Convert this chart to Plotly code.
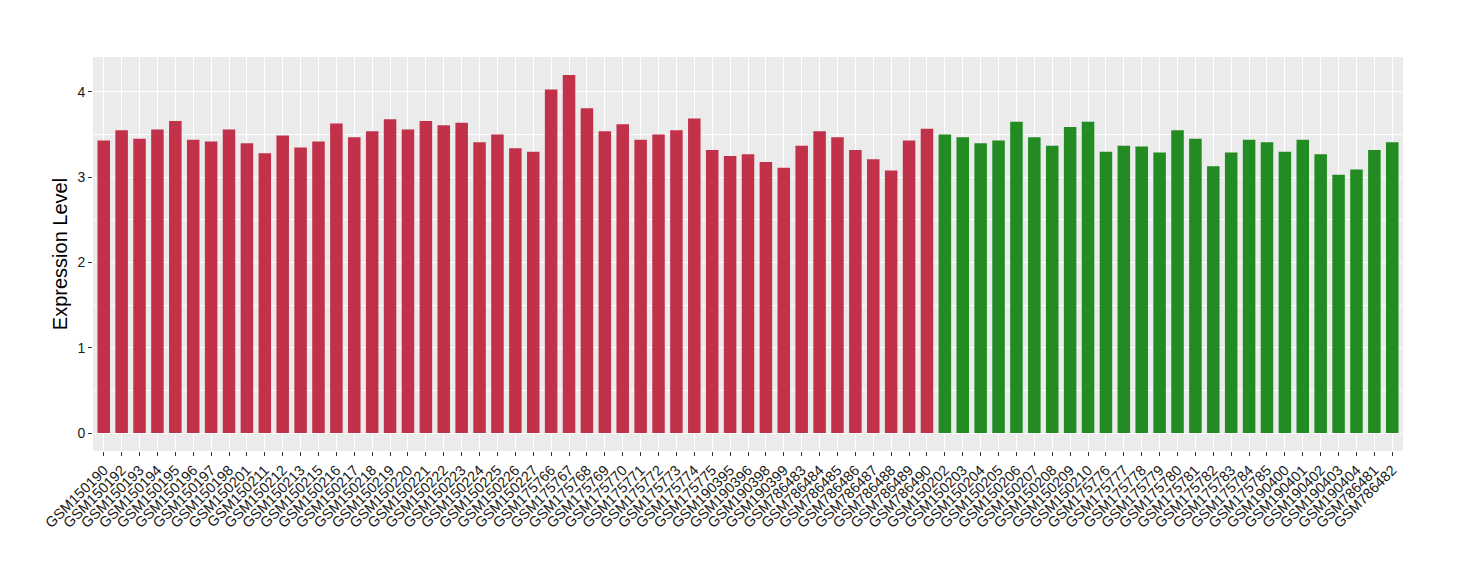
import plotly.graph_objects as go

red_samples = ["GSM150190", "GSM150192", "GSM150193", "GSM150194", "GSM150195", "GSM150196",
               "GSM150197", "GSM150198", "GSM150201", "GSM150211", "GSM150212", "GSM150213",
               "GSM150215", "GSM150216", "GSM150217", "GSM150218", "GSM150219", "GSM150220",
               "GSM150221", "GSM150222", "GSM150223", "GSM150224", "GSM150225", "GSM150226",
               "GSM150227", "GSM175766", "GSM175767", "GSM175768", "GSM175769", "GSM175770",
               "GSM175771", "GSM175772", "GSM175773", "GSM175774", "GSM175775", "GSM190395",
               "GSM190396", "GSM190398", "GSM190399", "GSM786483", "GSM786484", "GSM786485",
               "GSM786486", "GSM786487", "GSM786488", "GSM786489", "GSM786490"]
red_values = [3.43, 3.55, 3.45, 3.56, 3.66, 3.44, 3.42, 3.56, 3.40, 3.28, 3.49, 3.35,
              3.42, 3.63, 3.47, 3.54, 3.68, 3.56, 3.66, 3.61, 3.64, 3.41, 3.50, 3.34,
              3.30, 4.03, 4.20, 3.81, 3.54, 3.62, 3.44, 3.50, 3.55, 3.69, 3.32, 3.25,
              3.27, 3.18, 3.11, 3.37, 3.54, 3.47, 3.32, 3.21, 3.08, 3.43, 3.57]

green_samples = ["GSM150202", "GSM150203", "GSM150204", "GSM150205", "GSM150206", "GSM150207",
                 "GSM150208", "GSM150209", "GSM150210", "GSM175776", "GSM175777", "GSM175778",
                 "GSM175779", "GSM175780", "GSM175781", "GSM175782", "GSM175783", "GSM175784",
                 "GSM175785", "GSM190400", "GSM190401", "GSM190402", "GSM190403", "GSM190404",
                 "GSM786481", "GSM786482"]
green_values = [3.50, 3.47, 3.40, 3.43, 3.65, 3.47, 3.37, 3.59, 3.65, 3.30, 3.37, 3.36,
                3.29, 3.55, 3.45, 3.13, 3.29, 3.44, 3.41, 3.30, 3.44, 3.27, 3.03, 3.09,
                3.32, 3.41]

y_ticks = [0, 1, 2, 3, 4]

RED = "#C2314A"
GREEN = "#228B22"
FONT = "Liberation Sans, Arial, sans-serif"

all_samples = red_samples + green_samples

fig = go.Figure()
fig.add_trace(go.Bar(x=red_samples, y=red_values, marker=dict(color=RED, line=dict(width=0)),
                     showlegend=False))
fig.add_trace(go.Bar(x=green_samples, y=green_values, marker=dict(color=GREEN, line=dict(width=0)),
                     showlegend=False))

fig.update_layout(
    width=1460, height=580,
    margin=dict(l=85, r=65, t=49, b=137),
    paper_bgcolor="white",
    plot_bgcolor="#EBEBEB",
    bargap=0.3,
    font=dict(family=FONT, color="#1a1a1a"),
)
fig.update_xaxes(
    automargin=False,
    categoryorder="array", categoryarray=all_samples,
    tickmode="array", tickvals=all_samples, ticktext=all_samples,
    range=[-0.6, len(all_samples) - 0.4],
    tickangle=-45,
    tickfont=dict(size=14.5, color="#1a1a1a", family=FONT),
    ticks="outside", ticklen=4, tickcolor="#333333", tickwidth=1,
    showgrid=True, gridcolor="white", gridwidth=1.1,
    zeroline=False, showline=False,
)
fig.update_yaxes(
    automargin=False,
    range=[-0.21, 4.41],
    tickvals=y_ticks,
    tickfont=dict(size=14, color="#1a1a1a", family=FONT),
    ticks="outside", ticklen=4, tickcolor="#333333", tickwidth=1,
    showgrid=True, gridcolor="white", gridwidth=1.1,
    minor=dict(tickvals=[0.5, 1.5, 2.5, 3.5], showgrid=True, gridcolor="white", gridwidth=0.5, ticks=""),
    zeroline=False, showline=False,
    title=dict(text="Expression Level", font=dict(size=20, family=FONT, color="black"), standoff=4),
)

fig.write_html("out.html")
